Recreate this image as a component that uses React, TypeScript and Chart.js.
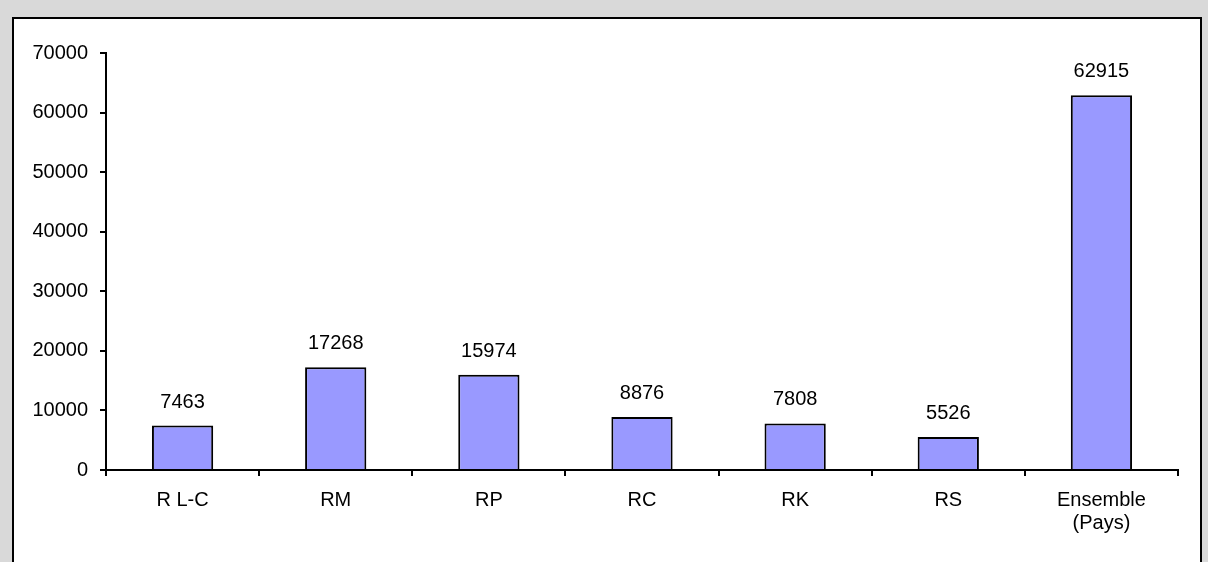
import React, { useEffect, useRef } from "react";
import { Chart, registerables } from "chart.js";

Chart.register(...registerables);

const categories: (string | string[])[] = ["R L-C", "RM", "RP", "RC", "RK", "RS", ["Ensemble", "(Pays)"]];
const values: number[] = [7463, 17268, 15974, 8876, 7808, 5526, 62915];
const yMin = 0;
const yMax = 70000;
const yStep = 10000;

const FONT = '"Liberation Sans", Arial, sans-serif';

const valueLabels = {
  id: "valueLabels",
  afterDatasetsDraw(chart: any) {
    const ctx = chart.ctx;
    const meta = chart.getDatasetMeta(0);
    ctx.save();
    ctx.font = `20px ${FONT}`;
    ctx.fillStyle = "#000";
    ctx.textAlign = "center";
    ctx.textBaseline = "alphabetic";
    meta.data.forEach((bar: any, i: number) => {
      ctx.fillText(String(values[i]), bar.x, bar.y - 18);
    });
    ctx.restore();
  },
};

export default function App() {
  const ref = useRef<HTMLCanvasElement>(null);
  useEffect(() => {
    if (!ref.current) return;
    const chart = new Chart(ref.current, {
      type: "bar",
      data: {
        labels: categories,
        datasets: [
          {
            data: values,
            backgroundColor: "#9999ff",
            borderColor: "#000",
            borderWidth: 2,
            barPercentage: 0.4,
            categoryPercentage: 1,
          },
        ],
      },
      options: {
        responsive: false,
        animation: false,
        layout: { padding: { left: 0, right: 30, top: 53, bottom: 0 } },
        plugins: { legend: { display: false }, tooltip: { enabled: false } },
        scales: {
          x: {
            grid: { display: true, drawOnChartArea: false, drawTicks: true, tickLength: 6, color: "#000", lineWidth: 2, offset: true },
            border: { display: true, color: "#000", width: 2 },
            ticks: { color: "#000", font: { family: FONT, size: 20, lineHeight: 1.15 }, padding: 13, maxRotation: 0, autoSkip: false },
            afterFit: (s: any) => { s.height = 92; },
          },
          y: {
            min: yMin,
            max: yMax,
            grid: { display: true, drawOnChartArea: false, drawTicks: true, tickLength: 6, color: "#000", lineWidth: 2 },
            border: { display: true, color: "#000", width: 2 },
            ticks: {
              stepSize: yStep,
              color: "#000",
              font: { family: FONT, size: 20 },
              padding: 12,
              callback: (v: any) => String(v),
            },
            afterFit: (s: any) => { s.width = 106; },
          },
        },
      },
      plugins: [valueLabels],
    });
    return () => chart.destroy();
  }, []);

  return (
    <div style={{ position: "fixed", left: 0, top: 0, width: 1208, height: 562, background: "#d9d9d9", overflow: "hidden" }}>
      <div
        style={{
          position: "absolute",
          left: 12,
          top: 17,
          width: 1186,
          height: 560,
          background: "#fff",
          borderTop: "2px solid #000",
          borderLeft: "2px solid #000",
          borderRight: "2px solid #000",
        }}
      />
      <canvas ref={ref} width={1208} height={562} style={{ position: "absolute", left: 0, top: 0 }} />
    </div>
  );
}
